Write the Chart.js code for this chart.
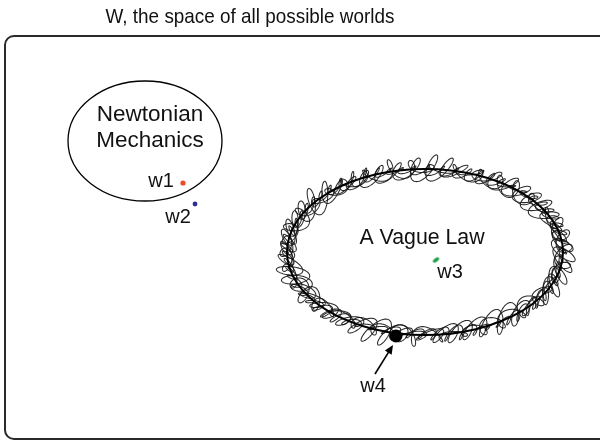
<!DOCTYPE html>
<html>
<head>
<meta charset="utf-8">
<script src="https://cdn.jsdelivr.net/npm/chart.js@4/dist/chart.umd.min.js"></script>
<style>
  html, body { margin: 0; padding: 0; background: #fff; }
</style>
</head>
<body>
<canvas id="worlds" width="600" height="441"></canvas>
<script>
// diagram space: x 0..600, y 0..441 (y grows downward)
const regionNames = ['Newtonian Mechanics', 'A Vague Law'];
const regionCx = [145, 425];
const regionCy = [141, 252];
const regionRx = [77, 138];
const regionRy = [60, 83];

const worldNames = ['w1', 'w2', 'w3', 'w4'];
const worldX = [183, 195, 436, 396];
const worldY = [183, 204, 260, 336];
const worldColors = ['#f04a2c', '#2b2f96', '#1e9e4a', '#000000'];
const worldSizes = [2.6, 2.4, 0, 6.5];

const labelText = ['W, the space of all possible worlds', 'Newtonian', 'Mechanics', 'w1', 'w2', 'A Vague Law', 'w3', 'w4'];
const labelX = [250, 150, 150, 161, 178, 422, 450, 373];
const labelY = [23, 121, 147, 187, 223, 244, 278, 392];
const labelSize = [21, 22.5, 22.5, 20, 20, 21.3, 20, 20];
const labelStretch = [0.9, 1, 1, 1, 1, 1, 1, 1];

const arrowFrom = [375, 374];
const arrowTo = [393, 345];

const frameBox = [5, 36, 612, 439]; // left, top, right, bottom

const FONT = '"Liberation Sans", Arial, Helvetica, sans-serif';

// small tilted green blot used as the w3 marker
const greenBlot = document.createElement('canvas');
greenBlot.width = 9; greenBlot.height = 9;
(function () {
  const g = greenBlot.getContext('2d');
  g.fillStyle = worldColors[2];
  g.beginPath();
  g.ellipse(4.5, 4.5, 3.6, 1.8, -0.6, 0, Math.PI * 2);
  g.fill();
})();

// hand-drawn looking scribble along an ellipse (decoration only)
function scribble(ctx, cx, cy, rx, ry, k, a, b, shear, phase) {
  const steps = 4000;
  ctx.beginPath();
  for (let i = 0; i <= steps; i++) {
    const th = i / steps * Math.PI * 2;
    const ex = cx + rx * Math.cos(th), ey = cy + ry * Math.sin(th);
    let tx = -rx * Math.sin(th), ty = ry * Math.cos(th);
    const tl = Math.hypot(tx, ty); tx /= tl; ty /= tl;
    const nx = ty, ny = -tx;
    const wob = 1 + 0.35 * Math.sin(7 * th + phase) + 0.25 * Math.cos(13 * th + 2 * phase);
    const q = k * th + phase + 0.8 * Math.sin(9 * th + phase);
    const s = Math.sin(q), c = Math.cos(q);
    const off = 1.5 * Math.sin(4 * th + phase);
    const x = ex + nx * (a * wob * s + off) + tx * (b * c + shear * s);
    const y = ey + ny * (a * wob * s + off) + ty * (b * c + shear * s);
    if (i === 0) ctx.moveTo(x, y); else ctx.lineTo(x, y);
  }
  ctx.stroke();
}

const diagramPlugin = {
  id: 'diagram',
  beforeDatasetsDraw(chart) {
    const ctx = chart.ctx;
    const xs = chart.scales.x, ys = chart.scales.y;
    const px = v => xs.getPixelForValue(v);
    const py = v => ys.getPixelForValue(v);
    ctx.save();

    // outer frame
    ctx.strokeStyle = '#2a2a2a';
    ctx.lineWidth = 2;
    ctx.beginPath();
    ctx.roundRect(px(frameBox[0]), py(frameBox[1]), px(frameBox[2]) - px(frameBox[0]), py(frameBox[3]) - py(frameBox[1]), 9);
    ctx.stroke();

    // regions
    regionNames.forEach((name, i) => {
      const cx = px(regionCx[i]), cy = py(regionCy[i]);
      const rx = px(regionCx[i] + regionRx[i]) - cx;
      const ry = py(regionCy[i] + regionRy[i]) - cy;
      if (i === 1) {
        ctx.strokeStyle = 'rgba(20,20,20,0.9)';
        ctx.lineWidth = 1.05;
        scribble(ctx, cx, cy, rx, ry, 52, 9, 7, 6, 0.3);
        scribble(ctx, cx, cy, rx, ry, 38, 7, 7, -2, 2.1);
        scribble(ctx, cx, cy, rx, ry, 66, 5, 4, 4, 4.0);
      }
      ctx.strokeStyle = '#000';
      ctx.lineWidth = i === 1 ? 2 : 1.3;
      ctx.beginPath();
      ctx.ellipse(cx, cy, rx, ry, 0, 0, Math.PI * 2);
      ctx.stroke();
    });

    // labels
    ctx.fillStyle = '#111';
    ctx.textAlign = 'center';
    ctx.textBaseline = 'alphabetic';
    labelText.forEach((t, i) => {
      ctx.save();
      ctx.font = labelSize[i] + 'px ' + FONT;
      ctx.translate(px(labelX[i]), py(labelY[i]));
      ctx.scale(labelStretch[i], 1);
      ctx.fillText(t, 0, 0);
      ctx.restore();
    });

    // arrow to w4
    const ax = px(arrowFrom[0]), ay = py(arrowFrom[1]);
    const bx = px(arrowTo[0]), by = py(arrowTo[1]);
    const ang = Math.atan2(by - ay, bx - ax);
    ctx.strokeStyle = '#000';
    ctx.lineWidth = 1.6;
    ctx.beginPath();
    ctx.moveTo(ax, ay);
    ctx.lineTo(bx - 6 * Math.cos(ang), by - 6 * Math.sin(ang));
    ctx.stroke();
    ctx.fillStyle = '#000';
    ctx.beginPath();
    ctx.moveTo(bx, by);
    ctx.lineTo(bx - 9 * Math.cos(ang) + 4 * Math.sin(ang), by - 9 * Math.sin(ang) - 4 * Math.cos(ang));
    ctx.lineTo(bx - 9 * Math.cos(ang) - 4 * Math.sin(ang), by - 9 * Math.sin(ang) + 4 * Math.cos(ang));
    ctx.closePath();
    ctx.fill();

    ctx.restore();
  }
};

new Chart(document.getElementById('worlds'), {
  type: 'scatter',
  data: {
    datasets: [{
      label: 'worlds',
      data: worldNames.map((n, i) => ({ x: worldX[i], y: worldY[i] })),
      pointBackgroundColor: worldColors,
      pointBorderWidth: 0,
      pointRadius: worldSizes.map(r => r || 4),
      pointStyle: worldSizes.map(r => r ? 'circle' : greenBlot)
    }]
  },
  options: {
    responsive: false,
    animation: false,
    layout: { padding: 0, autoPadding: false },
    scales: {
      x: { type: 'linear', min: 0, max: 600, display: false },
      y: { type: 'linear', min: 0, max: 441, reverse: true, display: false }
    },
    plugins: {
      legend: { display: false },
      tooltip: { enabled: false },
      title: { display: false }
    }
  },
  plugins: [diagramPlugin]
});
</script>
</body>
</html>
